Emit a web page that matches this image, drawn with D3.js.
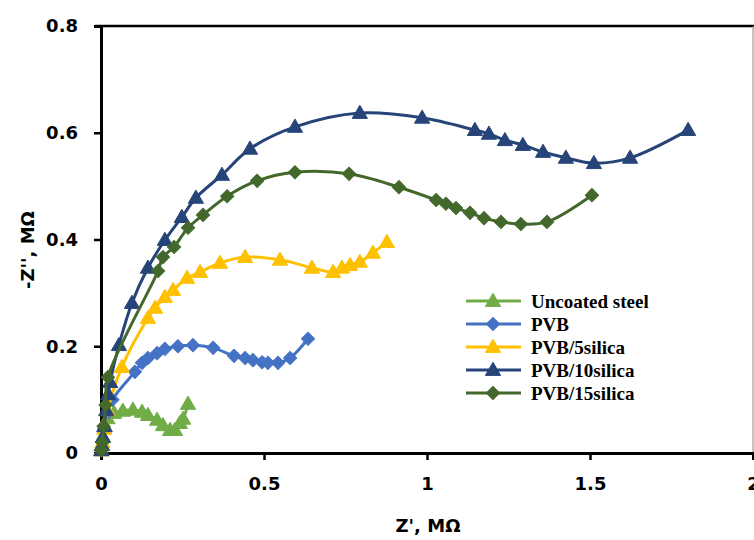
<!DOCTYPE html>
<html><head><meta charset="utf-8">
<script src="https://cdn.jsdelivr.net/npm/d3@7"></script>
<style>body{margin:0;background:#fff}svg{display:block}</style>
</head><body>
<svg id="c" width="754" height="540"></svg>
<script>
const seriesNames = ["Uncoated steel","PVB","PVB/5silica","PVB/10silica","PVB/15silica"];
const seriesColors = ["#70AD47","#4472C4","#FFC000","#264478","#43682B"];
const seriesShapes = ["triangle","diamond","triangle","triangle","diamond"];
const uncoated = [[0.001,0.005],[0.003,0.015],[0.006,0.03],[0.012,0.05],[0.02,0.065],[0.04,0.075],[0.067,0.079],[0.098,0.081],[0.126,0.077],[0.144,0.071],[0.172,0.062],[0.19,0.052],[0.212,0.043],[0.227,0.043],[0.242,0.056],[0.252,0.064],[0.267,0.092]];
const pvb = [[0.001,0.005],[0.004,0.02],[0.01,0.045],[0.02,0.075],[0.035,0.1],[0.104,0.152],[0.126,0.169],[0.144,0.178],[0.172,0.187],[0.196,0.195],[0.236,0.2],[0.282,0.202],[0.344,0.197],[0.408,0.182],[0.442,0.178],[0.466,0.174],[0.494,0.17],[0.512,0.169],[0.543,0.169],[0.58,0.178],[0.635,0.214]];
const pvb5 = [[0.001,0.005],[0.004,0.02],[0.01,0.045],[0.02,0.08],[0.064,0.161],[0.144,0.253],[0.166,0.272],[0.196,0.292],[0.221,0.305],[0.264,0.328],[0.304,0.339],[0.365,0.356],[0.442,0.367],[0.549,0.362],[0.647,0.347],[0.712,0.339],[0.739,0.347],[0.764,0.352],[0.794,0.358],[0.834,0.375],[0.877,0.395]];
const pvb10 = [[0.001,0.005],[0.003,0.015],[0.006,0.03],[0.01,0.05],[0.016,0.08],[0.022,0.11],[0.028,0.133],[0.055,0.202],[0.095,0.281],[0.144,0.347],[0.196,0.399],[0.248,0.442],[0.291,0.478],[0.371,0.521],[0.457,0.57],[0.595,0.611],[0.794,0.637],[0.985,0.628],[1.147,0.605],[1.19,0.598],[1.239,0.586],[1.294,0.577],[1.356,0.564],[1.426,0.553],[1.512,0.543],[1.623,0.553],[1.801,0.605]];
const pvb15 = [[0.001,0.005],[0.004,0.02],[0.008,0.05],[0.014,0.09],[0.021,0.142],[0.175,0.341],[0.19,0.367],[0.224,0.386],[0.267,0.422],[0.313,0.446],[0.387,0.481],[0.479,0.51],[0.595,0.526],[0.761,0.523],[0.914,0.498],[1.028,0.474],[1.058,0.467],[1.089,0.459],[1.132,0.45],[1.175,0.44],[1.227,0.433],[1.288,0.429],[1.368,0.433],[1.506,0.483]];
const seriesData = [uncoated,pvb,pvb5,pvb10,pvb15];
const xTicks = [0,0.5,1,1.5,2];
const yTicks = [0,0.2,0.4,0.6,0.8];
const xLabel = "Z', MΩ";
const yLabel = "-Z'', MΩ";

const svg = d3.select("#c");
const x = d3.scaleLinear().domain([0,2]).range([101,753]);
const y = d3.scaleLinear().domain([0,0.8]).range([453,26]);
const tickFont = "'DejaVu Sans', sans-serif";

svg.append("line").attr("x1",95).attr("x2",754).attr("y1",y(0.8)).attr("y2",y(0.8)).attr("stroke","#000").attr("stroke-width",2.5);
svg.append("line").attr("x1",x(2)).attr("x2",x(2)).attr("y1",y(0.8)).attr("y2",y(0)).attr("stroke","#888").attr("stroke-width",1);

const xAxis = svg.append("g").attr("transform",`translate(0,${y(0)})`)
  .call(d3.axisBottom(x).tickValues(xTicks).tickFormat(d3.format("")).tickSize(7).tickPadding(17));
const yAxis = svg.append("g").attr("transform",`translate(${x(0)},0)`)
  .call(d3.axisLeft(y).tickValues(yTicks).tickFormat(d3.format("")).tickSize(7).tickPadding(16));
[xAxis,yAxis].forEach(g=>{
  g.select(".domain").attr("stroke","#000").attr("stroke-width",3);
  g.selectAll(".tick line").attr("stroke","#000").attr("stroke-width",2.5);
  g.selectAll(".tick text").attr("font-family",tickFont).attr("font-weight","bold").attr("font-size",18).attr("fill","#000");
});

svg.append("text").attr("x",428).attr("y",532).attr("text-anchor","middle")
  .attr("font-family",tickFont).attr("font-weight","bold").attr("font-size",18).text(xLabel);
svg.append("text").attr("transform","translate(34,250) rotate(-90)").attr("text-anchor","middle")
  .attr("font-family",tickFont).attr("font-weight","bold").attr("font-size",18).text(yLabel);

const line = d3.line().x(d=>x(d[0])).y(d=>y(d[1])).curve(d3.curveCatmullRom.alpha(0.5));
const tri = d3.symbol().type(d3.symbolTriangle).size(100);
const sq = d3.symbol().type(d3.symbolSquare).size(88);
function marker(g, shape, color, cx, cy){
  g.append("path").attr("d", shape==="triangle"?tri():sq())
   .attr("transform",`translate(${cx},${cy})`+(shape==="triangle"?" translate(0,1)":" rotate(45)"))
   .attr("fill",color).attr("stroke",color).attr("stroke-width",1);
}
seriesData.forEach((data,i)=>{
  const g = svg.append("g");
  g.append("path").datum(data).attr("d",line).attr("fill","none").attr("stroke",seriesColors[i]).attr("stroke-width",3);
  data.forEach(d=>marker(g,seriesShapes[i],seriesColors[i],x(d[0]),y(d[1])));
});

const lg = svg.append("g");
seriesNames.forEach((n,i)=>{
  const cy = 301 + i*23;
  lg.append("line").attr("x1",466).attr("x2",521).attr("y1",cy).attr("y2",cy).attr("stroke",seriesColors[i]).attr("stroke-width",3);
  marker(lg,seriesShapes[i],seriesColors[i],493,cy);
  lg.append("text").attr("x",531).attr("y",cy+6.5).attr("font-family","'Liberation Serif', serif").attr("font-weight","bold")
    .attr("font-size",19).text(n);
});
</script>
</body></html>
